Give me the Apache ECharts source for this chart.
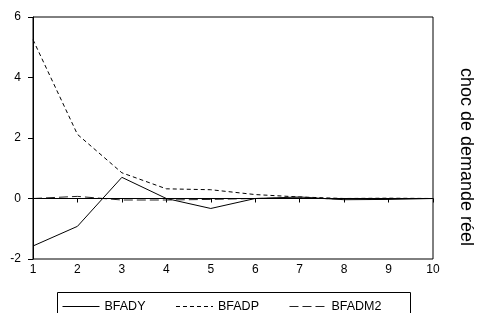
<!DOCTYPE html>
<html>
<head>
<meta charset="utf-8">
<script src="https://cdn.jsdelivr.net/npm/echarts@6/dist/echarts.min.js"></script>
<style>
  html, body { margin: 0; padding: 0; background: #fff; }
  #chart { width: 480px; height: 313px; }
</style>
</head>
<body>
<div id="chart"></div>
<script>
// periods after the shock
const periods = [1, 2, 3, 4, 5, 6, 7, 8, 9, 10];

// responses
const bfady  = [-1.57, -0.92, 0.70, 0.00, -0.33, 0.00, 0.05, -0.04, -0.03, 0.00];
const bfadp  = [5.25, 2.12, 0.85, 0.32, 0.29, 0.13, 0.05, 0.00, 0.01, 0.00];
const bfadm2 = [0.00, 0.07, -0.05, -0.05, -0.03, 0.00, 0.02, -0.02, 0.00, 0.00];

const yTicks = { min: -2, max: 6, step: 2 };
const sideTitle = "choc de demande réel";

const FONT = "Liberation Sans, Arial, sans-serif";

function pairs(vals) {
    return periods.map((p, i) => [p, vals[i]]);
}

function lineSeries(name, vals, type, color) {
    return {
        name,
        type: "line",
        data: pairs(vals),
        symbol: "none",
        silent: true,
        animation: false,
        lineStyle: { color, width: 1, type },
        itemStyle: { color },
    };
}

const chart = echarts.init(document.getElementById("chart"));

const series = [
    lineSeries("BFADY", bfady, "solid", "#000"),
    lineSeries("BFADP", bfadp, [4, 3], "#000"),
    lineSeries("BFADM2", bfadm2, [9, 4], "#222"),
];

// zero reference line
series[0].markLine = {
    silent: true,
    symbol: "none",
    label: { show: false },
    lineStyle: { color: "#000", width: 1, type: "solid" },
    data: [{ yAxis: 0 }],
};

chart.setOption({
    animation: false,
    grid: {
        left: 33, right: 47, top: 17, bottom: 54,
        show: true, borderColor: "#000", borderWidth: 1,
    },
    xAxis: {
        type: "value",
        min: 1, max: 10, interval: 1,
        axisLine: { show: true, lineStyle: { color: "#000", width: 1 } },
        axisTick: { show: true, inside: false, length: 4, lineStyle: { color: "#000" } },
        axisLabel: { color: "#000", fontFamily: FONT, fontSize: 12, margin: 5 },
        splitLine: { show: false },
    },
    yAxis: {
        type: "value",
        min: yTicks.min, max: yTicks.max, interval: yTicks.step,
        axisLine: { show: true, lineStyle: { color: "#000", width: 1 } },
        axisTick: { show: true, inside: false, length: 5, lineStyle: { color: "#000" } },
        axisLabel: { color: "#000", fontFamily: FONT, fontSize: 12, margin: 12 },
        splitLine: { show: false },
    },
    legend: {
        show: true,
        left: 62, top: 300,
        orient: "horizontal",
        padding: 0,
        itemWidth: 37, itemHeight: 13, itemGap: 30,
        itemStyle: { opacity: 0 },
        lineStyle: { width: 1 },
        textStyle: { color: "#000", fontFamily: FONT, fontSize: 12.5 },
        data: ["BFADY", "BFADP", "BFADM2"],
    },
    graphic: [
        {
            type: "rect",
            silent: true,
            shape: { x: 57.5, y: 292.5, width: 353, height: 30 },
            style: { fill: "none", stroke: "#000", lineWidth: 1 },
        },
        {
            type: "text",
            x: 466, y: 157,
            rotation: -Math.PI / 2,
            style: {
                text: sideTitle,
                fill: "#000",
                font: "18px " + FONT,
                textAlign: "center",
                textVerticalAlign: "middle",
            },
        },
    ],
    series,
});
</script>
</body>
</html>
